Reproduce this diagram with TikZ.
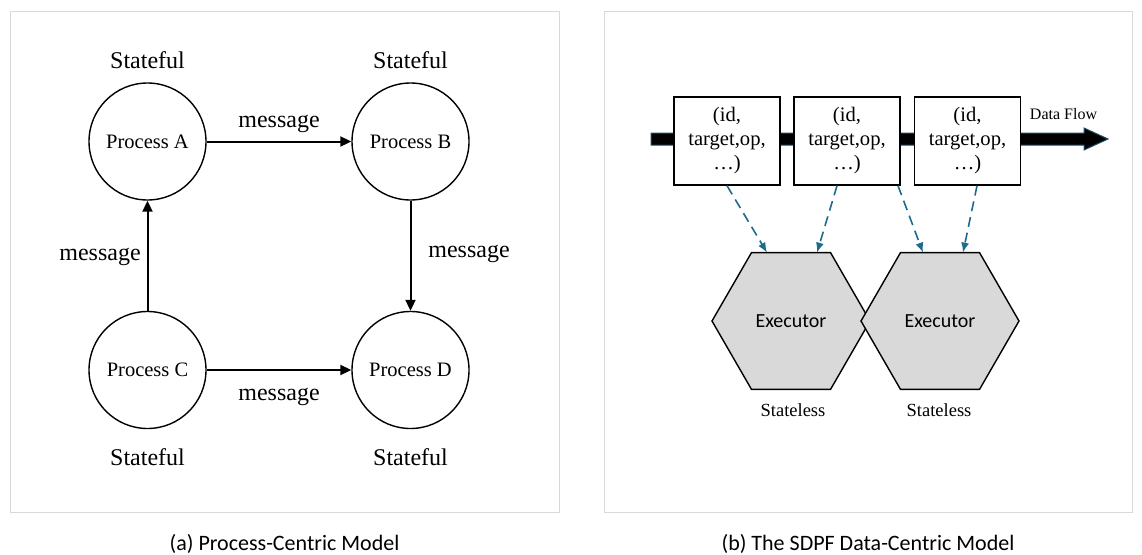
\documentclass[tikz,border=0pt]{standalone}
\usepackage{fontspec}
\setmainfont{Liberation Serif}
\newfontfamily\capfont{Carlito}
\usetikzlibrary{arrows.meta,shapes.geometric,calc}
\definecolor{framegray}{HTML}{D9D9D9}
\definecolor{hexfill}{HTML}{D9D9D9}
\definecolor{dashblue}{HTML}{1F6B8C}
\definecolor{flowedge}{HTML}{1F4E6B}
\begin{document}
\begin{tikzpicture}[x=1pt,y=-1pt,
 proc/.style={circle,draw,line width=1.4pt,minimum size=117pt,inner sep=0pt,font=\fontsize{20.5}{24}\selectfont},
 lbl/.style={font=\fontsize{24}{28}\selectfont,inner sep=0pt,anchor=base},
 msg/.style={line width=2pt,-{Triangle[length=11pt,width=10pt]}},
 rec/.style={draw,line width=1.4pt,fill=white,minimum width=106pt,minimum height=88pt,inner sep=0pt,align=center,font=\fontsize{20.6}{24}\selectfont},
 hexa/.style={regular polygon,regular polygon sides=6,minimum size=158pt,inner sep=0pt,draw,line width=1.4pt,fill=hexfill,font=\capfont\fontsize{20}{24}\selectfont},
 feed/.style={dashblue,line width=1.6pt,dash pattern=on 10pt off 6pt,-{Latex[length=10pt,width=8pt]}},
 note/.style={font=\fontsize{18.5}{22}\selectfont,inner sep=0pt,anchor=base},
 captxt/.style={font=\capfont\fontsize{22}{26}\selectfont,inner sep=0pt,anchor=base},
 panelframe/.style={draw=framegray,line width=1pt}]
\useasboundingbox (0,0) rectangle (1142,554);
\draw[panelframe] (10,11) rectangle (559,512);
\draw[panelframe] (604,11) rectangle (1132,512);

% (a) process-centric
\node[proc] (pa) at (147.5,141.5) {Process A};
\node[proc] (pb) at (410.5,141.5) {Process B};
\node[proc] (pc) at (147.5,370) {Process C};
\node[proc] (pd) at (410.5,370) {Process D};
\node[lbl] (sa) at (147.5,68) {Stateful};
\node[lbl] (sb) at (410.5,68) {Stateful};
\node[lbl] (sc) at (147.5,465) {Stateful};
\node[lbl] (sd) at (410.5,465) {Stateful};
\draw[msg] (pa) -- (pb);
\draw[msg] (pb) -- (pd);
\draw[msg] (pc) -- (pa);
\draw[msg] (pc) -- (pd);
\node[lbl] (mab) at (279,127) {message};
\node[lbl] (mcd) at (279,400) {message};
\node[lbl] (mca) at (100,260) {message};
\node[lbl] (mbd) at (469,257) {message};

% (b) data-centric
\draw[flowedge,line width=1pt,fill=black] (651,133) -- (1084,133) -- (1084,128) -- (1108,139) -- (1084,150) -- (1084,145) -- (651,145) -- cycle;
\node[font=\fontsize{16}{19}\selectfont,inner sep=0pt,anchor=base] (df) at (1063.5,119.5) {Data Flow};
\node[rec] (b1) at (727,141) {(id,\\target,op,\\\dots)};
\node[rec] (b2) at (847,141) {(id,\\target,op,\\\dots)};
\node[rec] (b3) at (967.5,141) {(id,\\target,op,\\\dots)};
\node[hexa] (h1) at (791,321) {Executor};
\node[hexa] (h2) at (940,321) {Executor};
\node[note] (n1) at (793,416.7) {Stateless};
\node[note] (n2) at (939,416.7) {Stateless};
\draw[feed] (b1.south) -- ([shift={(-24,-68.4)}]h1.center);
\draw[feed] ([xshift=-10pt]b2.south) -- ([shift={(26,-68.4)}]h1.center);
\draw[feed] ([xshift=51pt]b2.south) -- ([shift={(-17,-68.4)}]h2.center);
\draw[feed] ([xshift=9.5pt]b3.south) -- ([shift={(23,-68.4)}]h2.center);

\node[captxt] (ca) at (284.5,550) {(a) Process-Centric Model};
\node[captxt] (cb) at (868,550) {(b) The SDPF Data-Centric Model};
\end{tikzpicture}
\end{document}
